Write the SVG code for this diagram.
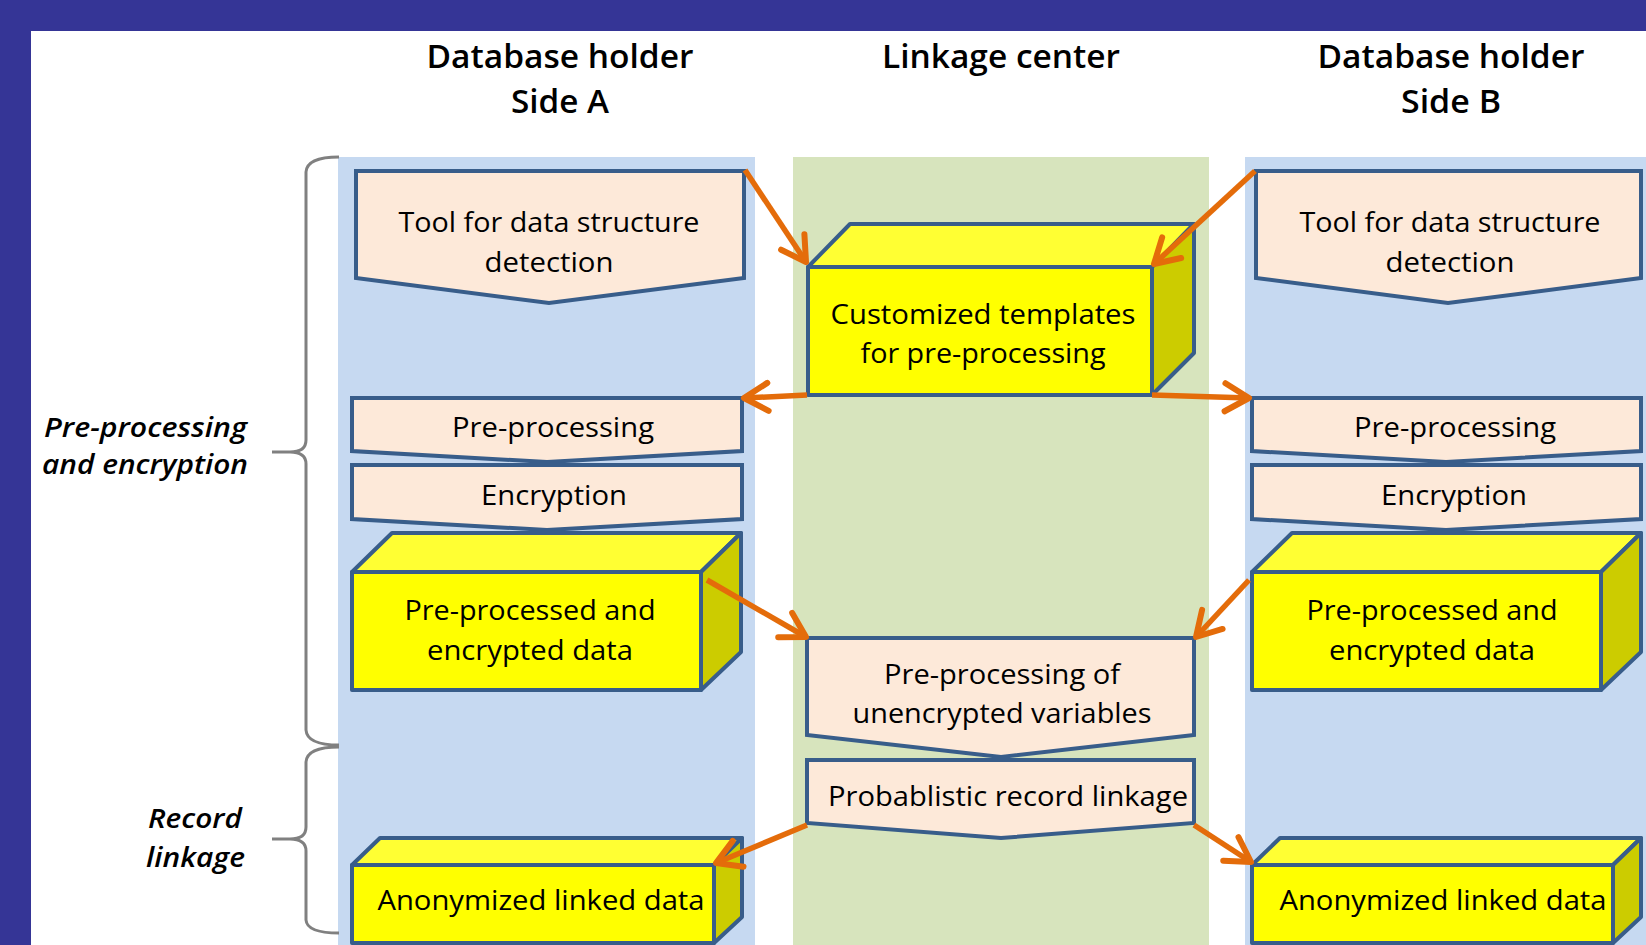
<svg xmlns="http://www.w3.org/2000/svg" width="1646" height="945" viewBox="0 0 1646 945">
<defs>
<style>
.hdr{font-family:"Open Sans","Noto Sans","Liberation Sans",sans-serif;font-weight:600;font-size:32px;fill:#000;text-anchor:middle}
.t{font-family:"Open Sans","Noto Sans","Liberation Sans",sans-serif;font-size:27px;fill:#000;text-anchor:middle}
.side{font-family:"Open Sans","Noto Sans","Liberation Sans",sans-serif;font-weight:600;font-style:italic;font-size:27px;fill:#000}
.pent{fill:#fde9d9;stroke:#385d8a;stroke-width:4;stroke-linejoin:miter}
.front{fill:#ffff00;stroke:#385d8a;stroke-width:4;stroke-linejoin:round}
.top{fill:#ffff33;stroke:#385d8a;stroke-width:4;stroke-linejoin:round}
.sidef{fill:#cccc00;stroke:#385d8a;stroke-width:4;stroke-linejoin:round}
.arr{stroke:#e46c0a;stroke-width:5.5;fill:none;marker-end:url(#ah)}
.brace{stroke:#808080;stroke-width:3;fill:none}
</style>
<marker id="ah" markerUnits="userSpaceOnUse" viewBox="-30 -20 36 40" refX="0" refY="0" markerWidth="36" markerHeight="40" orient="auto">
<path d="M-24,-14 L0,0 L-24,14" fill="none" stroke="#e46c0a" stroke-width="6" stroke-linecap="round" stroke-linejoin="round"/>
</marker>
</defs>

<rect x="0" y="0" width="1646" height="945" fill="#353596"/>
<rect x="31" y="31" width="1615" height="914" fill="#ffffff"/>

<g id="lanes">
<rect x="338" y="157" width="417" height="788" fill="#c6d9f1"/>
<rect x="793" y="157" width="416" height="788" fill="#d7e4bd"/>
<rect x="1245" y="157" width="401" height="788" fill="#c6d9f1"/>
</g>

<g id="headers">
<text class="hdr" x="560" y="68" textLength="267" lengthAdjust="spacingAndGlyphs">Database holder</text>
<text class="hdr" x="560" y="113" textLength="98" lengthAdjust="spacingAndGlyphs">Side A</text>
<text class="hdr" x="1001" y="68" textLength="238" lengthAdjust="spacingAndGlyphs">Linkage center</text>
<text class="hdr" x="1451" y="68" textLength="267" lengthAdjust="spacingAndGlyphs">Database holder</text>
<text class="hdr" x="1451" y="113" textLength="100" lengthAdjust="spacingAndGlyphs">Side B</text>
</g>

<g id="braces">
<path class="brace" d="M339,157 Q307,157 306,172 L306,440 Q306,452 290,452 L272,452 M290,452 Q306,452 306,464 L306,730 Q307,745 339,745"/>
<path class="brace" d="M339,747 Q307,747 306,762 L306,827 Q306,839 290,839 L272,839 M290,839 Q306,839 306,851 L306,920 Q307,933 339,933"/>
<text class="side" x="44" y="437" textLength="203" lengthAdjust="spacingAndGlyphs">Pre-processing</text>
<text class="side" x="42" y="474" textLength="206" lengthAdjust="spacingAndGlyphs">and encryption</text>
<text class="side" x="148" y="828" textLength="94" lengthAdjust="spacingAndGlyphs">Record</text>
<text class="side" x="146" y="867" textLength="99" lengthAdjust="spacingAndGlyphs">linkage</text>
</g>

<g id="nodeA1">
<polygon class="pent" points="356,171 744,171 744,278 549,303 356,278"/>
<text class="t" x="549" y="232" textLength="301" lengthAdjust="spacingAndGlyphs">Tool for data structure</text>
<text class="t" x="549" y="272" textLength="129" lengthAdjust="spacingAndGlyphs">detection</text>
</g>

<g id="nodeB1">
<polygon class="pent" points="1256,171 1641,171 1641,278 1448,303 1256,278"/>
<text class="t" x="1450" y="232" textLength="301" lengthAdjust="spacingAndGlyphs">Tool for data structure</text>
<text class="t" x="1450" y="272" textLength="129" lengthAdjust="spacingAndGlyphs">detection</text>
</g>

<g id="nodeC1">
<polygon class="top" points="808,267 850,224 1194,224 1152,267"/>
<polygon class="sidef" points="1152,267 1194,224 1194,353 1152,395"/>
<rect class="front" x="808" y="267" width="344" height="128"/>
<text class="t" x="983" y="324" textLength="305" lengthAdjust="spacingAndGlyphs">Customized templates</text>
<text class="t" x="983" y="363" textLength="245" lengthAdjust="spacingAndGlyphs">for pre-processing</text>
</g>

<g id="nodeA2">
<polygon class="pent" points="352,398 742,398 742,451 547,462 352,451"/>
<text class="t" x="553" y="437" textLength="202" lengthAdjust="spacingAndGlyphs">Pre-processing</text>
</g>
<g id="nodeA3">
<polygon class="pent" points="352,465 742,465 742,519 547,530 352,519"/>
<text class="t" x="554" y="505" textLength="146" lengthAdjust="spacingAndGlyphs">Encryption</text>
</g>
<g id="nodeB2">
<polygon class="pent" points="1252,398 1641,398 1641,451 1446,462 1252,451"/>
<text class="t" x="1455" y="437" textLength="202" lengthAdjust="spacingAndGlyphs">Pre-processing</text>
</g>
<g id="nodeB3">
<polygon class="pent" points="1252,465 1641,465 1641,519 1446,530 1252,519"/>
<text class="t" x="1454" y="505" textLength="146" lengthAdjust="spacingAndGlyphs">Encryption</text>
</g>

<g id="nodeA4">
<polygon class="top" points="352,572 392,533 741,533 701,572"/>
<polygon class="sidef" points="701,572 741,533 741,652 701,690"/>
<rect class="front" x="352" y="572" width="349" height="118"/>
<text class="t" x="530" y="620" textLength="251" lengthAdjust="spacingAndGlyphs">Pre-processed and</text>
<text class="t" x="530" y="660" textLength="206" lengthAdjust="spacingAndGlyphs">encrypted data</text>
</g>
<g id="nodeB4">
<polygon class="top" points="1252,572 1292,533 1641,533 1601,572"/>
<polygon class="sidef" points="1601,572 1641,533 1641,652 1601,690"/>
<rect class="front" x="1252" y="572" width="349" height="118"/>
<text class="t" x="1432" y="620" textLength="251" lengthAdjust="spacingAndGlyphs">Pre-processed and</text>
<text class="t" x="1432" y="660" textLength="206" lengthAdjust="spacingAndGlyphs">encrypted data</text>
</g>

<g id="nodeC2">
<polygon class="pent" points="807,638 1194,638 1194,735 1001,757 807,735"/>
<text class="t" x="1002" y="684" textLength="236" lengthAdjust="spacingAndGlyphs">Pre-processing of</text>
<text class="t" x="1002" y="723" textLength="299" lengthAdjust="spacingAndGlyphs">unencrypted variables</text>
</g>
<g id="nodeC3">
<polygon class="pent" points="807,760 1194,760 1194,823 1001,838 807,823"/>
<text class="t" x="1008" y="806" textLength="360" lengthAdjust="spacingAndGlyphs">Probablistic record linkage</text>
</g>

<g id="nodeA5">
<polygon class="top" points="352,865 380,838 742,838 714,865"/>
<polygon class="sidef" points="714,865 742,838 742,917 714,943"/>
<rect class="front" x="352" y="865" width="362" height="78"/>
<text class="t" x="541" y="910" textLength="327" lengthAdjust="spacingAndGlyphs">Anonymized linked data</text>
</g>
<g id="nodeB5">
<polygon class="top" points="1252,865 1280,838 1641,838 1613,865"/>
<polygon class="sidef" points="1613,865 1641,838 1641,917 1613,943"/>
<rect class="front" x="1252" y="865" width="361" height="78"/>
<text class="t" x="1443" y="910" textLength="327" lengthAdjust="spacingAndGlyphs">Anonymized linked data</text>
</g>

<g id="connectors">
<line class="arr" x1="745" y1="170" x2="806" y2="262"/>
<line class="arr" x1="1255" y1="171" x2="1154" y2="264"/>
<line class="arr" x1="807" y1="395" x2="744" y2="398"/>
<line class="arr" x1="1152" y1="395" x2="1249" y2="398"/>
<line class="arr" x1="707" y1="580" x2="806" y2="637"/>
<line class="arr" x1="1249" y1="580" x2="1196" y2="637"/>
<line class="arr" x1="807" y1="825" x2="716" y2="863"/>
<line class="arr" x1="1194" y1="825" x2="1251" y2="862"/>
</g>
</svg>
